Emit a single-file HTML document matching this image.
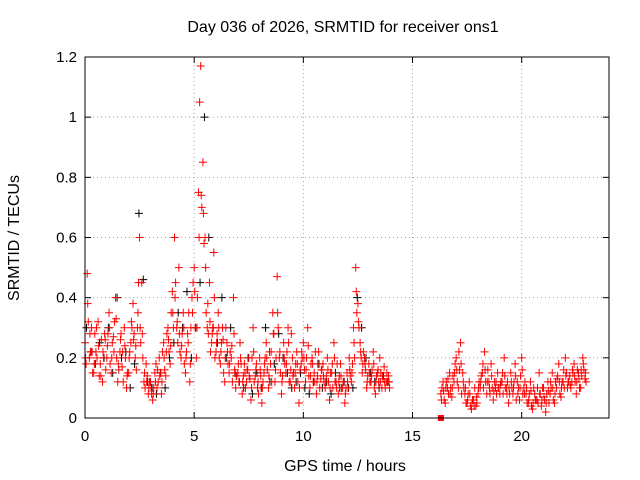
<!DOCTYPE html>
<html><head><meta charset="utf-8"><style>
body{margin:0;background:#fff;}
svg{display:block;font-family:"Liberation Sans",sans-serif;}
</style></head><body>
<svg id="chart" width="640" height="480">
<text x="343" y="32" text-anchor="middle" font-size="16">Day 036 of 2026, SRMTID for receiver ons1</text>
<text x="345" y="471" text-anchor="middle" font-size="16">GPS time / hours</text>
<text x="19" y="238" text-anchor="middle" font-size="16" transform="rotate(-90 19 238)">SRMTID / TECUs</text>
<g id="grid"></g>
<g id="ticks"></g>
<g id="marks"></g>
<rect x="85" y="57" width="524" height="361" fill="none" stroke="#000" stroke-width="1"/>
</svg>
<script>
const xTicks=[0,5,10,15,20];
const yTicks=[0,0.2,0.4,0.6,0.8,1,1.2];
const yTickLabels=["0","0.2","0.4","0.6","0.8","1","1.2"];
const seg1Start=0, seg1Step=0.1;
const redA=[0.25,0.48,0.2,0.3,0.15,0.22,0.32,0.18,0.12,0.28,
0.2,0.35,0.15,0.27,0.4,0.12,0.22,0.17,0.3,0.1,
0.15,0.25,0.38,0.2,0.3,0.6,0.45,0.12,0.18,0.08,
0.12,0.06,0.15,0.1,0.2,0.08,0.25,0.14,0.3,0.18,
0.42,0.6,0.3,0.5,0.2,0.35,0.15,0.28,0.12,0.4,
0.5,0.2,0.75,1.17,0.85,0.6,0.3,0.45,0.25,0.55,
0.22,0.35,0.18,0.3,0.12,0.25,0.15,0.2,0.4,0.1,
0.15,0.25,0.08,0.18,0.12,0.2,0.06,0.3,0.14,0.1,
0.2,0.05,0.15,0.25,0.1,0.18,0.35,0.12,0.47,0.2,
0.08,0.25,0.15,0.3,0.12,0.2,0.1,0.22,0.05,0.18,
0.25,0.12,0.3,0.1,0.2,0.15,0.08,0.22,0.13,0.18,
0.1,0.2,0.06,0.15,0.25,0.12,0.08,0.18,0.1,0.05,
0.15,0.2,0.12,0.3,0.5,0.38,0.25,0.15,0.2,0.1,
0.18,0.12,0.22,0.08,0.15,0.2,0.1,0.17,0.12,0.14];
const redB=[0.18,0.32,0.22,0.15,0.28,0.2,0.14,0.26,0.2,0.16,
0.28,0.18,0.25,0.32,0.2,0.16,0.28,0.12,0.2,0.15,
0.22,0.3,0.28,0.16,0.45,0.25,0.2,0.1,0.14,0.12,
0.08,0.1,0.18,0.12,0.15,0.22,0.16,0.28,0.22,0.35,
0.3,0.45,0.25,0.22,0.28,0.18,0.22,0.35,0.3,0.45,
0.3,0.4,1.05,0.7,0.58,0.35,0.28,0.22,0.3,0.2,
0.28,0.2,0.25,0.15,0.3,0.18,0.22,0.12,0.16,0.14,
0.12,0.18,0.14,0.1,0.16,0.13,0.2,0.12,0.18,0.08,
0.14,0.12,0.2,0.16,0.22,0.12,0.28,0.2,0.3,0.15,
0.14,0.18,0.22,0.12,0.28,0.15,0.18,0.12,0.16,0.2,
0.16,0.2,0.14,0.18,0.12,0.22,0.14,0.1,0.16,0.12,
0.14,0.12,0.15,0.1,0.12,0.18,0.14,0.1,0.12,0.1,
0.1,0.14,0.18,0.2,0.35,0.3,0.2,0.22,0.16,0.14,
0.12,0.16,0.1,0.14,0.12,0.15,0.13,0.1,0.12,0.1];
const redE=[0.2,0.38,0.28,0.22,0.18,0.3,0.24,0.14,0.22,0.26,
0.24,0.3,0.2,0.22,0.33,0.18,0.26,0.22,0.24,0.14,
0.2,0.32,0.26,0.24,0.35,0.3,0.28,0.15,0.12,0.1,
0.1,0.08,0.12,0.16,0.14,0.12,0.2,0.22,0.26,0.24,
0.35,0.4,0.32,0.28,0.24,0.3,0.2,0.25,0.18,0.35,
0.42,0.3,0.6,0.74,0.68,0.5,0.38,0.32,0.28,0.4,
0.25,0.3,0.22,0.26,0.2,0.22,0.18,0.24,0.28,0.14,
0.18,0.2,0.12,0.15,0.16,0.14,0.1,0.22,0.16,0.12,
0.16,0.1,0.18,0.2,0.14,0.22,0.28,0.16,0.35,0.22,
0.12,0.2,0.18,0.25,0.16,0.14,0.15,0.18,0.1,0.22,
0.2,0.16,0.24,0.14,0.18,0.12,0.12,0.18,0.16,0.14,
0.12,0.16,0.1,0.18,0.2,0.1,0.12,0.14,0.12,0.08,
0.12,0.16,0.15,0.25,0.42,0.32,0.22,0.18,0.18,0.12,
0.15,0.14,0.18,0.12,0.16,0.12,0.14,0.12,0.15,0.12];
const seg2Start=16.3, seg2Step=0.1;
const redC=[0.08,0.12,0.05,0.1,0.15,0.07,0.12,0.2,0.1,0.25,
0.15,0.08,0.05,0.12,0.03,0.06,0.04,0.08,0.1,0.15,
0.22,0.08,0.12,0.18,0.06,0.1,0.15,0.08,0.12,0.2,
0.1,0.05,0.15,0.08,0.18,0.12,0.06,0.2,0.1,0.08,
0.05,0.12,0.03,0.08,0.06,0.15,0.04,0.1,0.02,0.12,
0.08,0.15,0.05,0.1,0.18,0.07,0.12,0.2,0.1,0.14,
0.12,0.18,0.08,0.15,0.1,0.2,0.13];
const redD=[0.1,0.06,0.12,0.08,0.1,0.14,0.18,0.12,0.16,0.08,
0.1,0.05,0.08,0.04,0.06,0.1,0.05,0.12,0.14,0.1,
0.12,0.16,0.08,0.1,0.12,0.08,0.1,0.12,0.08,0.1,
0.12,0.08,0.1,0.12,0.06,0.1,0.14,0.08,0.12,0.05,
0.08,0.04,0.1,0.06,0.05,0.08,0.1,0.06,0.08,0.05,
0.1,0.06,0.12,0.14,0.08,0.12,0.1,0.15,0.12,0.1,
0.15,0.12,0.16,0.1,0.14,0.16,0.12];
const redF=[0.06,0.09,0.1,0.13,0.08,0.1,0.15,0.16,0.22,0.18,
0.12,0.1,0.06,0.08,0.05,0.04,0.07,0.1,0.12,0.18,
0.16,0.12,0.1,0.14,0.09,0.12,0.1,0.11,0.15,0.14,
0.08,0.1,0.12,0.1,0.14,0.08,0.1,0.16,0.08,0.1,
0.06,0.09,0.05,0.06,0.1,0.08,0.06,0.07,0.05,0.09,
0.12,0.1,0.08,0.13,0.12,0.1,0.16,0.14,0.12,0.11,
0.16,0.14,0.12,0.13,0.16,0.18,0.15];
const blackA=[0.3,0.22,0.18,0.25,0.2,0.3,0.15,0.4,0.2,0.22,0.1,0.18,0.68,0.46,0.12,0.1,0.08,0.15,0.1,0.2,0.25,0.35,0.3,0.42,0.2,0.3,0.45,1.0,0.6,0.3,0.25,0.4,0.2,0.3,0.15,0.12,0.1,0.2,0.08,0.15,0.1,0.3,0.12,0.18,0.28,0.2,0.15,0.1,0.12,0.15,0.1,0.08,0.12,0.18,0.1,0.12,0.08,0.15,0.1,0.12,0.1,0.1,0.4,0.3,0.2,0.15,0.12,0.1,0.14,0.12];
const blackStep=0.2;
const squareT=[16.3], squareV=[0];
const X0=85,X1=609,XMAX=24,Y0=418,Y1=57,YMAX=1.2;
function xs(t){return X0+(X1-X0)*t/XMAX;}
function ys(v){return Y0-(Y0-Y1)*v/YMAX;}
const NS="http://www.w3.org/2000/svg";
const grid=document.getElementById('grid'),ticks=document.getElementById('ticks'),marks=document.getElementById('marks');
function line(g,x1,y1,x2,y2,st,dash,w){const l=document.createElementNS(NS,'line');l.setAttribute('x1',x1);l.setAttribute('y1',y1);l.setAttribute('x2',x2);l.setAttribute('y2',y2);l.setAttribute('stroke',st);l.setAttribute('stroke-width',w||1);if(dash)l.setAttribute('stroke-dasharray',dash);g.appendChild(l);return l;}
xTicks.forEach(t=>{const x=xs(t);
const gl=line(grid,x,Y1,x,Y0,'#a0a0a0','1,3');


line(ticks,x,Y0,x,Y0-6,'#000');line(ticks,x,Y1,x,Y1+6,'#000');
const tx=document.createElementNS(NS,'text');tx.setAttribute('x',x);tx.setAttribute('y',Y0+23);tx.setAttribute('text-anchor','middle');tx.setAttribute('font-size','15');tx.textContent=t;


ticks.appendChild(tx);});
yTicks.forEach((v,i)=>{const y=ys(v);
const gl=line(grid,X0,y,X1,y,'#a0a0a0','1,3');


line(ticks,X0,y,X0+6,y,'#000');line(ticks,X1,y,X1-6,y,'#000');
const tx=document.createElementNS(NS,'text');tx.setAttribute('x',X0-8);tx.setAttribute('y',y+5);tx.setAttribute('text-anchor','end');tx.setAttribute('font-size','15');tx.textContent=yTickLabels[i];


ticks.appendChild(tx);});
function plus(t,v,c){const x=xs(t),y=ys(v);const g=document.createElementNS(NS,'path');g.setAttribute('d',`M${x-4},${y}H${x+4}M${x},${y-4}V${y+4}`);g.setAttribute('stroke',c);g.setAttribute('stroke-width','1');g.setAttribute('fill','none');


marks.appendChild(g);}
blackA.forEach((v,i)=>plus(seg1Start+0.07+i*blackStep,v,'#000'));
redA.forEach((v,i)=>plus(seg1Start+i*seg1Step,v,'#ff0000'));
redB.forEach((v,i)=>plus(seg1Start+0.05+i*seg1Step,v,'#ff0000'));
redE.forEach((v,i)=>plus(seg1Start+0.025+i*seg1Step,v,'#ff0000'));
redC.forEach((v,i)=>plus(seg2Start+i*seg2Step,v,'#ff0000'));
redD.forEach((v,i)=>plus(seg2Start+0.05+i*seg2Step,v,'#ff0000'));
redF.forEach((v,i)=>plus(seg2Start+0.025+i*seg2Step,v,'#ff0000'));
squareT.forEach((t,i)=>{const r=document.createElementNS(NS,'rect');r.setAttribute('x',xs(t)-3);r.setAttribute('y',ys(squareV[i])-3);r.setAttribute('width',6);r.setAttribute('height',6);r.setAttribute('fill','#ff0000');


marks.appendChild(r);});
</script>
</body></html>
